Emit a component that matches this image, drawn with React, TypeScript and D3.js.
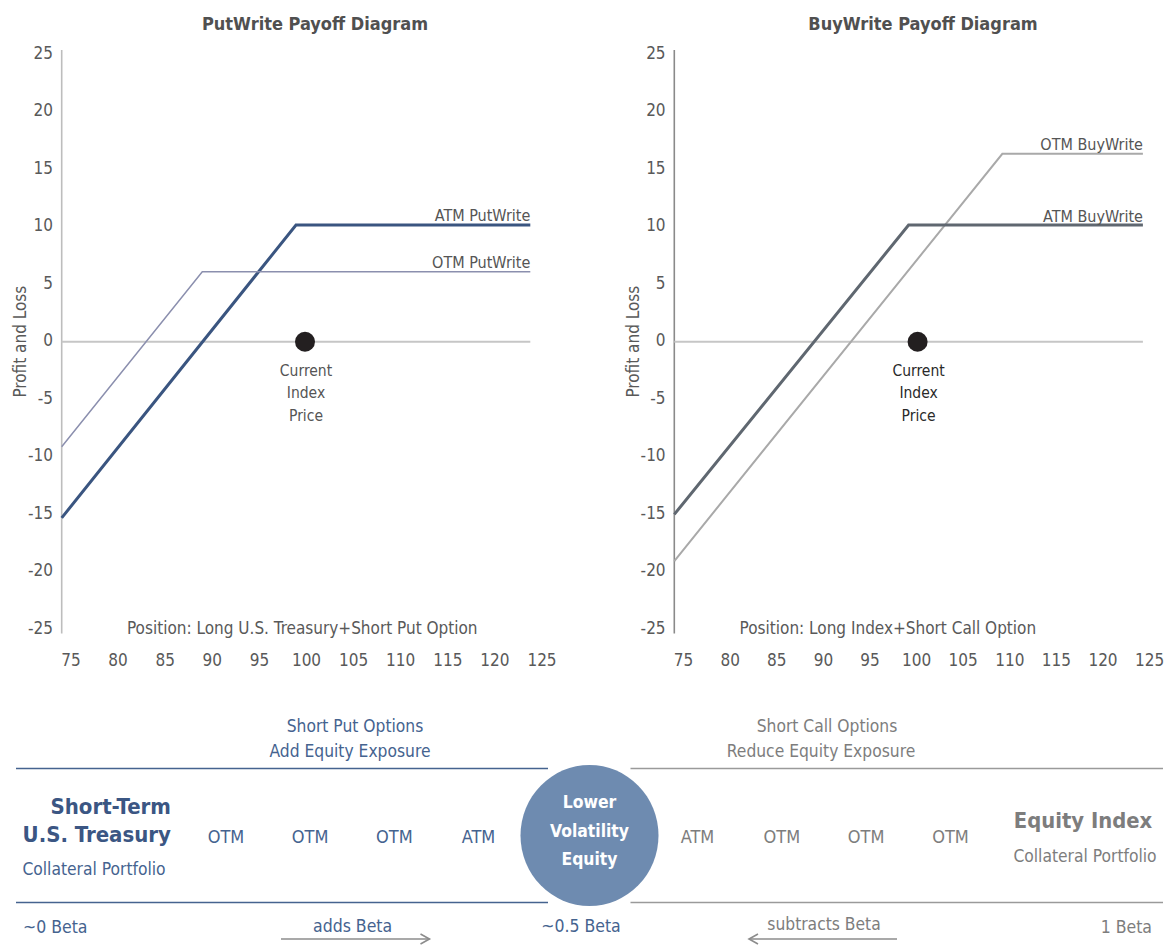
import React from 'react';
import * as d3 from 'd3';

// price axis (x) and profit/loss axis (y)
const priceTicks = [75, 80, 85, 90, 95, 100, 105, 110, 115, 120, 125];
const pnlTicks = [-25, -20, -15, -10, -5, 0, 5, 10, 15, 20, 25];
const currentPrice = 100;

// payoff lines: [index price, profit & loss]
const atmPutWrite: [number, number][] = [[75, -15.1], [100, 10], [125, 10]];
const otmPutWrite: [number, number][] = [[75, -9], [90, 6], [125, 6]];
const atmBuyWrite: [number, number][] = [[75, -14.8], [100, 10], [125, 10]];
const otmBuyWrite: [number, number][] = [[75, -18.8], [110, 16.1], [125, 16.1]];

// bottom spectrum
const putStrikes = ['OTM', 'OTM', 'OTM', 'ATM'];
const callStrikes = ['ATM', 'OTM', 'OTM', 'OTM'];

const FONT = '"DejaVu Sans Condensed", "DejaVu Sans", sans-serif';
const NAVY = '#45638f';
const NAVY_BOLD = '#3b5683';
const GREY = '#7d7d7d';
const AXIS_TXT = '#595959';

type Series = { name: string; data: [number, number][]; color: string; width: number; labelDy: number };

type PanelProps = {
  ox: number;
  labEnd: number;
  title: string;
  titleX: number;
  position: string;
  series: Series[];
  axisColor: string;
  noteColor: string;
};

const Panel: React.FC<PanelProps> = ({ ox, labEnd, title, titleX, position, series, axisColor, noteColor }) => {
  const x = d3.scaleLinear([75, 125], [ox + 61.7, ox + 530.3]);
  const xLab = d3.scaleLinear([75, 125], [ox + 71, ox + labEnd]);
  const y = d3.scaleLinear([-25, 25], [633.4, 50]);
  const yLab = d3.scaleLinear([-25, 25], [627.5, 52.5]);
  const line = d3.line<[number, number]>().x(d => x(d[0])).y(d => y(d[1]));

  return (
    <g fontFamily={FONT}>
      <text x={titleX} y={30} textAnchor="middle" fontWeight="bold" fontSize={18} fill="#505050">{title}</text>
      {pnlTicks.map(t => (
        <text key={t} x={ox + 53} y={yLab(t)} dy="0.36em" textAnchor="end" fontSize={17} fill={AXIS_TXT}>{t}</text>
      ))}
      {priceTicks.map(t => (
        <text key={t} x={xLab(t)} y={666} textAnchor="middle" fontSize={17} fill={AXIS_TXT}>{t}</text>
      ))}
      <text transform={`translate(${ox + 26},${y(0)}) rotate(-90)`} textAnchor="middle" fontSize={17} fill={AXIS_TXT}>Profit and Loss</text>
      <line x1={x(75)} x2={x(75)} y1={y(25)} y2={y(-25)} stroke={axisColor} strokeWidth={1.6} />
      <line x1={x(75)} x2={x(125)} y1={y(0)} y2={y(0)} stroke="#c6c6c6" strokeWidth={2} />
      <text x={ox + 127} y={634} fontSize={17} fill={AXIS_TXT}>{position}</text>
      {series.map(s => (
        <g key={s.name}>
          <path d={line(s.data) ?? ''} fill="none" stroke={s.color} strokeWidth={s.width} />
          <text x={x(125)} y={y(s.data[s.data.length - 1][1]) + s.labelDy} textAnchor="end" fontSize={16} fill="#555">{s.name}</text>
        </g>
      ))}
      <circle cx={x(currentPrice) + 9} cy={y(0)} r={10} fill="#231f20" />
      {['Current', 'Index', 'Price'].map((w, i) => (
        <text key={w} x={x(currentPrice) + 10} y={375.5 + i * 22.5} textAnchor="middle" fontSize={15.5} fill={noteColor}>{w}</text>
      ))}
    </g>
  );
};

const Arrow: React.FC<{ x1: number; x2: number; y: number }> = ({ x1, x2, y }) => {
  const dir = Math.sign(x2 - x1);
  return (
    <g stroke="#8c8c8c" strokeWidth={1.6} fill="none">
      <line x1={x1} x2={x2} y1={y} y2={y} />
      <polyline points={`${x2 - dir * 9},${y - 5} ${x2},${y} ${x2 - dir * 9},${y + 5}`} />
    </g>
  );
};

const App: React.FC = () => {
  const putX = d3.scalePoint<number>().domain(d3.range(putStrikes.length)).range([226, 478.5]);
  const callX = d3.scalePoint<number>().domain(d3.range(callStrikes.length)).range([697.5, 950.5]);

  return (
    <div style={{ position: 'absolute', left: 0, top: 0 }}>
      <svg width={1172} height={945} style={{ display: 'block', background: '#fff' }}>
        <Panel
          ox={0}
          labEnd={542}
          title="PutWrite Payoff Diagram"
          titleX={315}
          position="Position: Long U.S. Treasury+Short Put Option"
          axisColor="#bdbdbd"
          noteColor="#555"
          series={[
            { name: 'ATM PutWrite', data: atmPutWrite, color: '#3a5580', width: 3, labelDy: -4 },
            { name: 'OTM PutWrite', data: otmPutWrite, color: '#8b8fae', width: 1.5, labelDy: -4 },
          ]}
        />
        <Panel
          ox={612.6}
          labEnd={537}
          title="BuyWrite Payoff Diagram"
          titleX={923}
          position="Position: Long Index+Short Call Option"
          axisColor="#8a8a8a"
          noteColor="#2a2a2a"
          series={[
            { name: 'OTM BuyWrite', data: otmBuyWrite, color: '#a9a9a9', width: 2, labelDy: -4 },
            { name: 'ATM BuyWrite', data: atmBuyWrite, color: '#5f6770', width: 3, labelDy: -3 },
          ]}
        />

        <g fontFamily={FONT}>
          <text x={355} y={732} textAnchor="middle" fontSize={17.3} fill={NAVY}>Short Put Options</text>
          <text x={350} y={757} textAnchor="middle" fontSize={17.3} fill={NAVY}>Add Equity Exposure</text>
          <text x={827} y={732} textAnchor="middle" fontSize={17.3} fill={GREY}>Short Call Options</text>
          <text x={821} y={757} textAnchor="middle" fontSize={17.3} fill={GREY}>Reduce Equity Exposure</text>

          <line x1={16} x2={548} y1={768.5} y2={768.5} stroke={NAVY} strokeWidth={1.5} />
          <line x1={16} x2={548} y1={902.5} y2={902.5} stroke={NAVY} strokeWidth={1.5} />
          <line x1={630.5} x2={1163} y1={768.5} y2={768.5} stroke="#9a9a9a" strokeWidth={1.5} />
          <line x1={630.5} x2={1163} y1={902.5} y2={902.5} stroke="#9a9a9a" strokeWidth={1.5} />

          <text x={171} y={814} textAnchor="end" fontSize={22} fontWeight="bold" fill={NAVY_BOLD}>Short-Term</text>
          <text x={171} y={841.5} textAnchor="end" fontSize={22} fontWeight="bold" fill={NAVY_BOLD}>U.S. Treasury</text>
          <text x={94} y={875} textAnchor="middle" fontSize={17.3} fill={NAVY}>Collateral Portfolio</text>

          {putStrikes.map((s, i) => (
            <text key={'p' + i} x={putX(i)} y={842.5} textAnchor="middle" fontSize={18} fill={NAVY}>{s}</text>
          ))}
          {callStrikes.map((s, i) => (
            <text key={'c' + i} x={callX(i)} y={842.5} textAnchor="middle" fontSize={18} fill={GREY}>{s}</text>
          ))}

          <ellipse cx={589.5} cy={835.5} rx={69} ry={70.5} fill="#6e8bb0" />
          {['Lower', 'Volatility', 'Equity'].map((w, i) => (
            <text key={w} x={589.5} y={808.3 + i * 28.3} textAnchor="middle" fontSize={17.4} fontWeight="bold" fill="#fff">{w}</text>
          ))}

          <text x={1083} y={828} textAnchor="middle" fontSize={21.8} fontWeight="bold" fill={GREY}>Equity Index</text>
          <text x={1085} y={861.7} textAnchor="middle" fontSize={17.3} fill={GREY}>Collateral Portfolio</text>

          <text x={23} y={933} fontSize={17.5} fill={NAVY}>~0 Beta</text>
          <text x={352.6} y={932} textAnchor="middle" fontSize={17.5} fill={NAVY}>adds Beta</text>
          <text x={581} y={931.7} textAnchor="middle" fontSize={17.5} fill={NAVY}>~0.5 Beta</text>
          <text x={824} y={930} textAnchor="middle" fontSize={17.3} fill={GREY}>subtracts Beta</text>
          <text x={1152} y={933} textAnchor="end" fontSize={17.5} fill={GREY}>1 Beta</text>
          <Arrow x1={281} x2={429.5} y={939} />
          <Arrow x1={897} x2={749} y={939} />
        </g>
      </svg>
    </div>
  );
};

export default App;
